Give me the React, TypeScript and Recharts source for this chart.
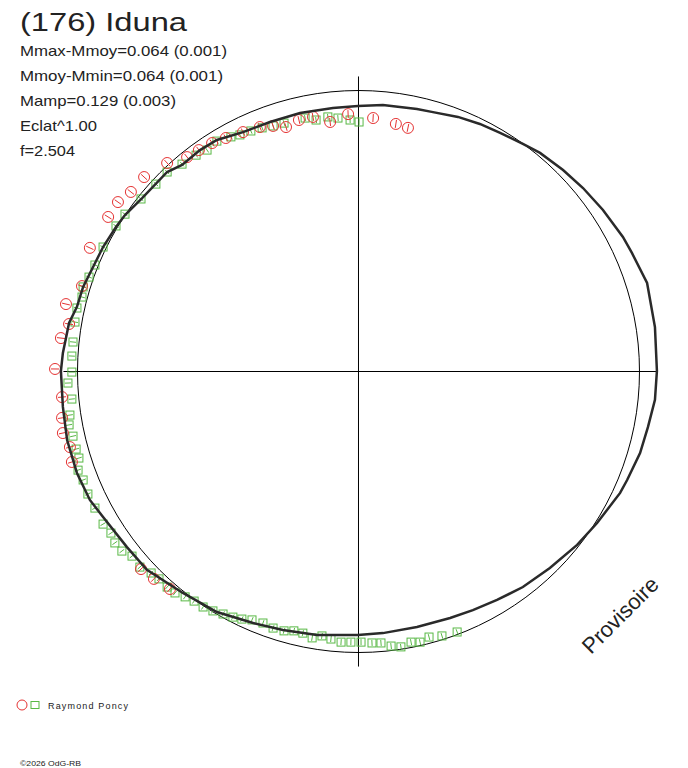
import { ScatterChart, Scatter, XAxis, YAxis, ReferenceLine, ReferenceDot } from 'recharts';

const RED = '#e53232';
const GREEN = '#58b845';
const INK = '#222';

// polar lightcurve, unit = reference circle radius
const modelX = [1.062, 1.055, 1.027, 0.973, 0.941, 0.870, 0.799, 0.728, 0.646, 0.585, 0.504, 0.432, 0.354, 0.265, 0.208, 0.087, -0.002, -0.091, -0.208, -0.315, -0.411, -0.504, -0.564, -0.628, -0.681, -0.770, -0.831, -0.863, -0.909, -0.941, -0.980, -1.002, -1.030, -1.052, -1.059, -1.052, -1.037, -1.002, -0.956, -0.909, -0.824, -0.753, -0.625, -0.504, -0.375, -0.269, -0.148, -0.002, 0.087, 0.208, 0.326, 0.407, 0.493, 0.585, 0.681, 0.778, 0.849, 0.931, 0.956, 1.002, 1.030, 1.055];
const modelY = [0.002, 0.158, 0.315, 0.422, 0.479, 0.575, 0.653, 0.717, 0.778, 0.810, 0.849, 0.881, 0.906, 0.923, 0.934, 0.948, 0.945, 0.938, 0.920, 0.888, 0.852, 0.824, 0.788, 0.735, 0.710, 0.617, 0.557, 0.514, 0.443, 0.379, 0.301, 0.230, 0.173, 0.066, 0.002, -0.126, -0.244, -0.361, -0.457, -0.518, -0.625, -0.706, -0.788, -0.856, -0.895, -0.920, -0.938, -0.938, -0.931, -0.909, -0.877, -0.849, -0.813, -0.767, -0.699, -0.617, -0.539, -0.432, -0.386, -0.290, -0.198, -0.101];

const redX = [0.176, 0.133, 0.052, -0.037, -0.101, -0.162, -0.212, -0.258, -0.304, -0.351, -0.411, -0.472, -0.521, -0.568, -0.610, -0.681, -0.763, -0.810, -0.856, -0.891, -0.956, -0.984, -1.041, -1.030, -1.059, -1.080, -1.055, -1.055, -1.052, -1.027, -1.020, -0.774, -0.728, -0.671];
const redY = [0.867, 0.881, 0.902, 0.916, 0.888, 0.906, 0.895, 0.870, 0.874, 0.870, 0.852, 0.831, 0.813, 0.788, 0.763, 0.742, 0.692, 0.639, 0.603, 0.550, 0.440, 0.304, 0.240, 0.169, 0.119, 0.009, -0.091, -0.165, -0.219, -0.269, -0.322, -0.703, -0.738, -0.774];

const greenX = [0.002, -0.030, -0.073, -0.109, -0.151, -0.190, -0.265, -0.304, -0.343, -0.383, -0.422, -0.454, -0.504, -0.539, -0.578,
  -0.628, -0.681, -0.721, -0.774, -0.831, -0.863, -0.909, -0.938, -0.959, -0.980, -0.984, -1.002, -1.009, -1.016, -1.020,
  -1.020, -1.034, -1.020, -1.027, -1.030, -1.016, -1.005, -0.995, -0.998,
  -0.980, -0.963, -0.938, -0.909, -0.881, -0.867, -0.842, -0.806, -0.778, -0.738, -0.710, -0.681, -0.653, -0.617, -0.585, -0.553, -0.518, -0.482, -0.447, -0.415, -0.379,
  -0.340, -0.304, -0.265, -0.230, -0.198, -0.165, -0.130, -0.098, -0.062, -0.027, 0.009, 0.048, 0.080, 0.116, 0.151, 0.187, 0.219, 0.251, 0.297, 0.351];
const greenY = [0.888, 0.895, 0.902, 0.906, 0.895, 0.902, 0.884, 0.874, 0.867, 0.856, 0.842, 0.835, 0.820, 0.788, 0.770,
  0.738, 0.710, 0.667, 0.614, 0.560, 0.518, 0.443, 0.379, 0.336, 0.301, 0.265, 0.226, 0.176, 0.105, 0.055,
  -0.002, -0.041, -0.098, -0.155, -0.190, -0.230, -0.276, -0.308, -0.351,
  -0.386, -0.436, -0.486, -0.543, -0.575, -0.610, -0.639, -0.657, -0.696, -0.717, -0.738, -0.767, -0.788, -0.802, -0.817, -0.838, -0.852, -0.863, -0.874, -0.881, -0.884,
  -0.895, -0.913, -0.923, -0.923, -0.931, -0.948, -0.941, -0.952, -0.963, -0.963, -0.963, -0.966, -0.966, -0.977, -0.980, -0.963, -0.963, -0.945, -0.941, -0.927];

const infoLines = ['Mmax-Mmoy=0.064 (0.001)', 'Mmoy-Mmin=0.064 (0.001)', 'Mamp=0.129 (0.003)', 'Eclat^1.00', 'f=2.504'];
const infoWidths = [207, 203, 156, 77, 55];

const toPts = (xs: number[], ys: number[]) => xs.map((x, i) => ({ x, y: ys[i] }));
const model = [...toPts(modelX, modelY), { x: modelX[0], y: modelY[0] }];
const red = toPts(redX, redY);
const green = toPts(greenX, greenY);

function RedMark(props: any) {
  const { cx, cy, payload } = props;
  const a = Math.atan2(payload.y, payload.x);
  const dx = Math.cos(a) * 4, dy = -Math.sin(a) * 4;
  return (
    <g>
      <circle cx={cx} cy={cy} r={5.5} fill="none" stroke={RED} />
      <line x1={cx - dx} y1={cy - dy} x2={cx + dx} y2={cy + dy} stroke={RED} />
    </g>
  );
}

function GreenMark(props: any) {
  const { cx, cy, payload } = props;
  const a = Math.atan2(payload.y, payload.x);
  const dx = Math.cos(a) * 3, dy = -Math.sin(a) * 3;
  return (
    <g>
      <rect x={cx - 4} y={cy - 4} width={8} height={8} fill="none" stroke={GREEN} />
      <line x1={cx - dx} y1={cy - dy} x2={cx + dx} y2={cy + dy} stroke={GREEN} />
    </g>
  );
}

export default function App() {
  return (
    <div style={{ position: 'absolute', left: 0, top: 0, width: 688, height: 768, background: '#fff' }}>
      <ScatterChart width={688} height={768} margin={{ top: 0, right: 0, bottom: 0, left: 0 }}>
        <XAxis type="number" dataKey="x" domain={[-1.2758, 1.1726]} allowDataOverflow hide />
        <YAxis type="number" dataKey="y" domain={[-1.411, 1.3221]} allowDataOverflow hide />
        <ReferenceDot x={0} y={0} r={281} fill="none" stroke="#000" strokeWidth={1} />
        <ReferenceLine segment={[{ x: -1.05, y: 0 }, { x: 1.06, y: 0 }]} stroke="#000" />
        <ReferenceLine segment={[{ x: 0, y: -1.05 }, { x: 0, y: 1.05 }]} stroke="#000" />
        <Scatter data={green} shape={<GreenMark />} isAnimationActive={false} />
        <Scatter data={red} shape={<RedMark />} isAnimationActive={false} />
        <Scatter data={model} line={{ stroke: '#2a2a2a', strokeWidth: 2.5 }} shape={() => <g />} isAnimationActive={false} />
      </ScatterChart>
      <svg width={688} height={768} style={{ position: 'absolute', left: 0, top: 0, pointerEvents: 'none' }}
        fontFamily='"Liberation Sans", Arial, sans-serif' fill={INK}>
        <text x={20} y={31} fontSize={26} textLength={167} lengthAdjust="spacingAndGlyphs">(176) Iduna</text>
        {infoLines.map((t, i) => (
          <text key={t} x={20} y={56 + i * 25} fontSize={15} textLength={infoWidths[i]} lengthAdjust="spacingAndGlyphs">{t}</text>
        ))}
        <text x={591} y={655} fontSize={22} transform="rotate(-45 591 655)">Provisoire</text>
        <circle cx={22} cy={705} r={5} fill="none" stroke={RED} />
        <rect x={31} y={701.5} width={8} height={7} fill="none" stroke={GREEN} />
        <text x={48} y={709} fontSize={9} textLength={80} lengthAdjust="spacing">Raymond Poncy</text>
        <text x={20} y={766} fontSize={8} textLength={61} lengthAdjust="spacingAndGlyphs">©2026 OdG-RB</text>
      </svg>
    </div>
  );
}
